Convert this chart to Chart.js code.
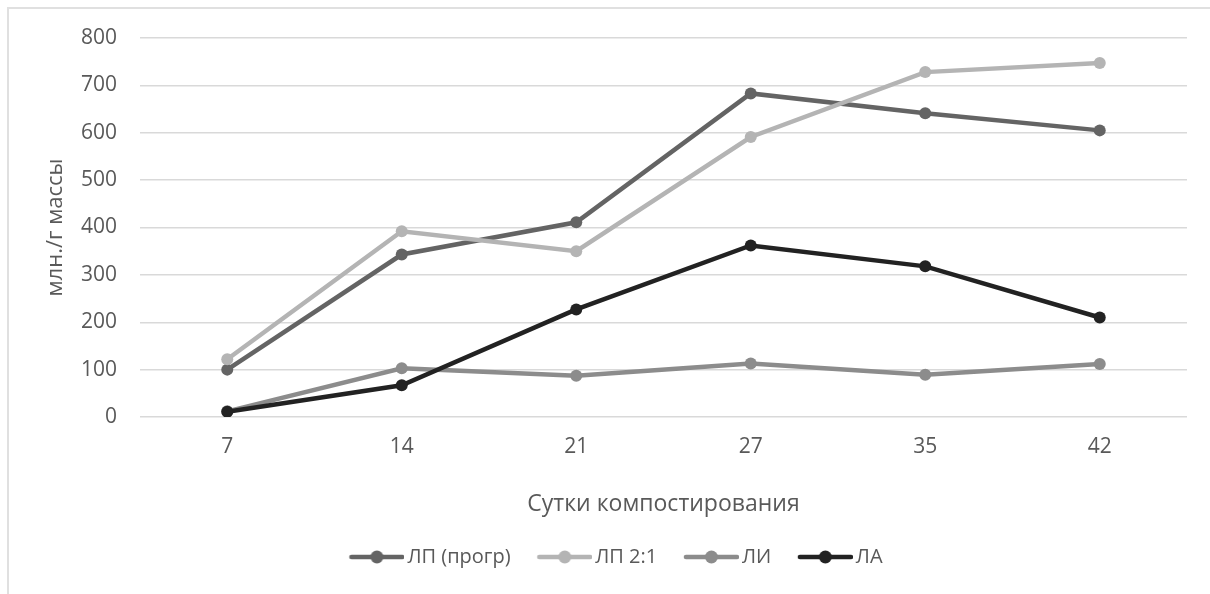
<!DOCTYPE html>
<html>
<head>
<meta charset="utf-8">
<script src="https://cdn.jsdelivr.net/npm/chart.js@4.4.0/dist/chart.umd.min.js"></script>
<style>
  html, body { margin: 0; padding: 0; background: #fff; }
  #wrap { position: relative; width: 1210px; height: 594px; }
  #frame { position: absolute; left: 7px; top: 7px; right: -10px; bottom: -10px;
           border-top: 2px solid #e0e0e0; border-left: 2px solid #e0e0e0; }
  canvas { position: absolute; left: 0; top: 0; }
</style>
</head>
<body>
<div id="wrap">
  <div id="frame"></div>
  <canvas id="myChart" width="1210" height="594"></canvas>
</div>
<script>
// data
var days = ["7", "14", "21", "27", "35", "42"];
var lpProgr = [100, 343, 411, 683, 641, 605];
var lp21 = [122, 392, 350, 591, 728, 747];
var li = [12, 103, 87, 113, 89, 112];
var la = [11, 67, 227, 362, 318, 210];
var seriesNames = ["ЛП (прогр)", "ЛП 2:1", "ЛИ", "ЛА"];
var yTicks = [0, 100, 200, 300, 400, 500, 600, 700, 800];

var colors = ["#646464", "#b4b4b4", "#8c8c8c", "#222222"];
var textColor = "#595959";
var font = "'Open Sans', 'DejaVu Sans', sans-serif";

// legend marker: line with a dot, drawn into a small canvas
function legendMark(color) {
    var c = document.createElement("canvas");
    c.width = 62;
    c.height = 16;
    var g = c.getContext("2d");
    g.strokeStyle = color;
    g.lineWidth = 4.5;
    g.lineCap = "round";
    g.beginPath();
    g.moveTo(9, 8);
    g.lineTo(60, 8);
    g.stroke();
    g.fillStyle = color;
    g.beginPath();
    g.arc(34.5, 8, 6.5, 0, Math.PI * 2);
    g.fill();
    return c;
}

function makeSet(i, values, order) {
    return {
        label: seriesNames[i],
        data: values,
        borderColor: colors[i],
        backgroundColor: colors[i],
        borderWidth: 4.5,
        pointRadius: 6,
        pointHoverRadius: 6,
        pointBorderWidth: 0,
        pointBackgroundColor: colors[i],
        tension: 0,
        order: order
    };
}

var ctx = document.getElementById("myChart").getContext("2d");
var lineChart = new Chart(ctx, {
    type: "line",
    data: {
        labels: days,
        datasets: [
            makeSet(0, lpProgr, 3),
            makeSet(1, lp21, 2),
            makeSet(2, li, 1),
            makeSet(3, la, 0)
        ]
    },
    options: {
        responsive: false,
        animation: false,
        layout: {
            padding: { left: 45, right: 23, top: 38, bottom: 17 }
        },
        plugins: {
            tooltip: { enabled: false },
            legend: {
                position: "bottom",
                labels: {
                    usePointStyle: true,
                    pointStyleWidth: 48,
                    padding: 26.7,
                    color: textColor,
                    font: { family: font, size: 20 },
                    generateLabels: function (chart) {
                        return chart.data.datasets.map(function (ds, i) {
                            return {
                                text: ds.label,
                                pointStyle: legendMark(colors[i]),
                                fillStyle: colors[i],
                                strokeStyle: colors[i],
                                lineWidth: 0,
                                fontColor: textColor,
                                datasetIndex: i,
                                hidden: false
                            };
                        });
                    }
                }
            }
        },
        scales: {
            x: {
                offset: true,
                grid: { display: false, drawTicks: false },
                border: { display: false },
                ticks: {
                    color: textColor,
                    padding: 17,
                    font: { family: font, size: 21 }
                },
                title: {
                    display: true,
                    text: "Сутки компостирования",
                    color: textColor,
                    font: { family: font, size: 23, lineHeight: 1.2 },
                    padding: { top: 0, bottom: 2 }
                },
                afterFit: function (scale) { scale.height = 103.3; }
            },
            y: {
                min: 0,
                max: 800,
                grid: { color: "#d9d9d9", lineWidth: 1.5, drawTicks: false },
                border: { display: false },
                afterBuildTicks: function (scale) {
                    scale.ticks = yTicks.map(function (v) { return { value: v }; });
                },
                ticks: {
                    color: textColor,
                    padding: 23,
                    font: { family: font, size: 21 }
                },
                title: {
                    display: true,
                    text: "млн./г массы",
                    color: textColor,
                    font: { family: font, size: 22, lineHeight: 1 },
                    padding: { top: -0.5, bottom: 0 }
                },
                afterFit: function (scale) { scale.width = 95; }
            }
        }
    }
});
</script>
</body>
</html>
